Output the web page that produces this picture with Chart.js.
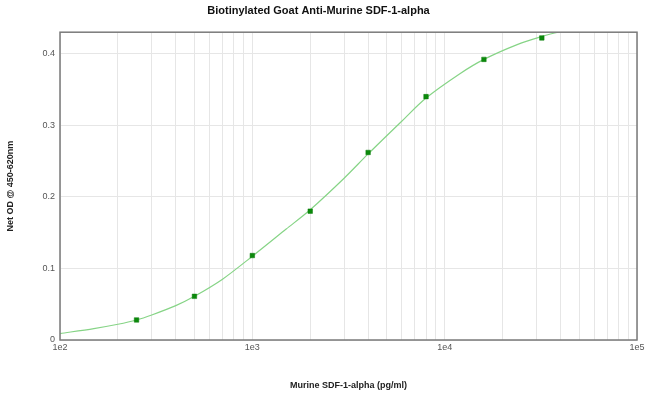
<!DOCTYPE html>
<html>
<head>
<meta charset="utf-8">
<script src="https://cdn.jsdelivr.net/npm/chart.js@4"></script>
<style>
  html, body { margin: 0; padding: 0; background: #fff; }
</style>
</head>
<body>
<canvas id="chart" width="650" height="405"></canvas>
<script>
// standards (pg/ml) and measured OD
const concentrations = [250, 500, 1000, 2000, 4000, 8000, 16000, 32000];
const netOD = [0.028, 0.061, 0.118, 0.180, 0.262, 0.340, 0.392, 0.422];

// fitted curve
const curveX = [100, 150, 200, 250, 300, 400, 500, 700, 1000, 1500, 2000, 3000, 4000, 6000, 8000, 12000, 16000, 24000, 32000, 40000];
const curveY = [0.009, 0.016, 0.022, 0.028, 0.035, 0.048, 0.061, 0.085, 0.117, 0.155, 0.182, 0.226, 0.260, 0.306, 0.338, 0.372, 0.392, 0.413, 0.424, 0.431];

const xTickLabels = ['1e2', '1e3', '1e4', '1e5'];
const yTickLabels = ['0', '0.1', '0.2', '0.3', '0.4'];

const FONT = "'Liberation Sans', Arial, sans-serif";

const frame = {
  id: 'frame',
  afterDraw(chart) {
    const { ctx, chartArea: a } = chart;
    ctx.save();
    ctx.strokeStyle = '#7a7a7a';
    ctx.lineWidth = 1.5;
    ctx.strokeRect(a.left, a.top, a.right - a.left, a.bottom - a.top);
    ctx.restore();
  },
};

new Chart(document.getElementById('chart'), {
  type: 'scatter',
  data: {
    datasets: [
      {
        data: curveX.map((x, i) => ({ x, y: curveY[i] })),
        showLine: true,
        borderColor: '#86d486',
        borderWidth: 1.2,
        pointRadius: 0,
        tension: 0.3,
        order: 2,
      },
      {
        data: concentrations.map((x, i) => ({ x, y: netOD[i] })),
        pointStyle: 'rect',
        pointRadius: 3.2,
        backgroundColor: '#0b8a0b',
        borderColor: '#0b7a0b',
        borderWidth: 0.5,
        order: 1,
      },
    ],
  },
  options: {
    responsive: false,
    animation: false,
    layout: { padding: { left: 0, right: 13, top: 0, bottom: 0 } },
    plugins: {
      legend: { display: false },
      tooltip: { enabled: false },
      title: {
        display: true,
        text: 'Biotinylated Goat Anti-Murine SDF-1-alpha',
        color: '#111',
        font: { family: FONT, size: 11, weight: 'bold' },
        padding: { top: 4, bottom: 15 },
      },
    },
    scales: {
      x: {
        type: 'logarithmic',
        min: 100,
        max: 100000,
        afterBuildTicks(scale) {
          const ticks = [];
          for (let e = 2; e < 5; e++) {
            for (let m = 1; m < 10; m++) ticks.push({ value: m * Math.pow(10, e) });
          }
          ticks.push({ value: 100000 });
          scale.ticks = ticks;
        },
        afterFit(scale) { scale.height = 65; },
        ticks: {
          autoSkip: false,
          maxRotation: 0,
          padding: 2,
          color: '#555',
          font: { family: FONT, size: 9 },
          callback(value) {
            const e = Math.log10(value);
            return Math.abs(e - Math.round(e)) < 1e-9 ? xTickLabels[Math.round(e) - 2] : '';
          },
        },
        grid: { color: '#e6e6e6', drawTicks: false },
        border: { display: false },
        title: {
          display: true,
          text: 'Murine SDF-1-alpha (pg/ml)',
          color: '#222',
          font: { family: FONT, size: 9, weight: 'bold' },
          padding: { top: 0, bottom: 14 },
        },
      },
      y: {
        min: 0,
        max: 0.43,
        afterBuildTicks(scale) {
          scale.ticks = yTickLabels.map((t) => ({ value: Number(t) }));
        },
        afterFit(scale) { scale.width = 60; },
        ticks: {
          padding: 5,
          color: '#555',
          font: { family: FONT, size: 9 },
          callback(value, i) { return yTickLabels[i]; },
        },
        grid: { color: '#e6e6e6', drawTicks: false },
        border: { display: false },
        title: {
          display: true,
          text: 'Net OD @ 450-620nm',
          color: '#222',
          font: { family: FONT, size: 9, weight: 'bold' },
          padding: { top: 5, bottom: 0 },
        },
      },
    },
  },
  plugins: [frame],
});
</script>
</body>
</html>
